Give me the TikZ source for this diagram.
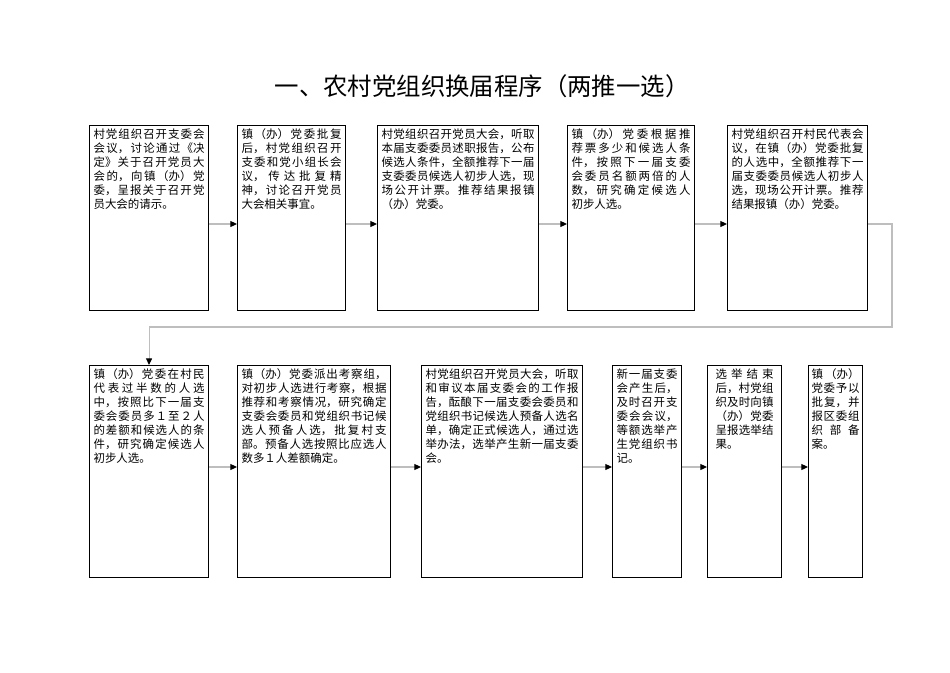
\documentclass[tikz,border=0pt]{standalone}
\usepackage{fontspec}
\setmainfont{Noto Sans CJK SC}
\usepackage{tikz}
\usetikzlibrary{arrows.meta}
\XeTeXlinebreaklocale "zh"
\XeTeXlinebreakskip=0pt plus 1pt
\definecolor{linkgray}{RGB}{190,190,190}
% text block of a stage: text width and box height in px
\newcommand{\cell}[3]{\parbox[c][\dimexpr#2pt*3/4-4.5pt\relax][t]{\dimexpr#1pt*3/4\relax}{%
  \fontsize{8.6}{10.5}\selectfont\tolerance=10000\hbadness=10000 #3}}

\begin{document}
\begin{tikzpicture}[
    x=0.75pt, y=-0.75pt,
    stage/.style={draw, line width=0.8pt, anchor=north west, inner xsep=0pt, inner ysep=2.25pt},
    link/.style={linkgray, line width=0.8pt, -{Triangle[length=5pt, width=4.5pt, color=black]}}
  ]
    \useasboundingbox (0,0) rectangle (950,672);
    % title
    \node (title) at (482,86) {\fontsize{18.3}{22}\selectfont 一、农村党组织换届程序（两推一选）};
    % first row
    \node[stage, minimum width=89.25pt] (b1) at (89,125) {\cell{111}{185}{村党组织召开支委会\linebreak
      会议，讨论通过《决\linebreak 定》关于召开党员大\linebreak 会的，向镇（办）党\linebreak
      委，呈报关于召开党\linebreak 员大会的请示。}};
    \node[stage, minimum width=81pt] (b2) at (237,125) {\cell{100}{185}{镇（办）党委批复\linebreak
      后，村党组织召开\linebreak 支委和党小组长会\linebreak 议，传达批复精\linebreak
      神，讨论召开党员\linebreak 大会相关事宜。}};
    \node[stage, minimum width=120.75pt] (b3) at (377,125) {\cell{153}{185}{村党组织召开党员大会，听取\linebreak
      本届支委委员述职报告，公布\linebreak 候选人条件，全额推荐下一届\linebreak
      支委委员候选人初步人选，现\linebreak 场公开计票。推荐结果报镇\linebreak （办）党委。}};
    \node[stage, minimum width=95.25pt] (b4) at (567,125) {\cell{119}{185}{镇（办）党委根据推\linebreak
      荐票多少和候选人条\linebreak 件，按照下一届支委\linebreak 会委员名额两倍的人\linebreak
      数，研究确定候选人\linebreak 初步人选。}};
    \node[stage, minimum width=105pt] (b5) at (727,125) {\cell{132}{185}{村党组织召开村民代表会\linebreak
      议，在镇（办）党委批复\linebreak 的人选中，全额推荐下一\linebreak 届支委委员候选人初步人\linebreak
      选，现场公开计票。推荐\linebreak 结果报镇（办）党委。}};
    % second row
    \node[stage, minimum width=89.25pt] (b6) at (89,365) {\cell{111}{212}{镇（办）党委在村民\linebreak
      代表过半数的人选\linebreak 中，按照比下一届支\linebreak 委会委员多１至２人\linebreak
      的差额和候选人的条\linebreak 件，研究确定候选人\linebreak 初步人选。}};
    \node[stage, minimum width=114.75pt] (b7) at (237,365) {\cell{145}{212}{镇（办）党委派出考察组，\linebreak
      对初步人选进行考察，根据\linebreak 推荐和考察情况，研究确定\linebreak 支委会委员和党组织书记候\linebreak
      选人预备人选，批复村支\linebreak 部。预备人选按照比应选人\linebreak 数多１人差额确定。}};
    \node[stage, minimum width=120.75pt] (b8) at (421,365) {\cell{153}{212}{村党组织召开党员大会，听取\linebreak
      和审议本届支委会的工作报\linebreak 告，酝酿下一届支委会委员和\linebreak 党组织书记候选人预备人选名\linebreak
      单，确定正式候选人，通过选\linebreak 举办法，选举产生新一届支委\linebreak 会。}};
    \node[stage, minimum width=51.75pt] (b9) at (612,365) {\cell{61}{212}{新一届支委\linebreak
      会产生后，\linebreak 及时召开支\linebreak 委会会议，\linebreak 等额选举产\linebreak 生党组织书\linebreak 记。}};
    \node[stage, minimum width=55.5pt] (b10) at (707,365) {\cell{58}{212}{选举结束\linebreak
      后，村党组\linebreak 织及时向镇\linebreak （办）党委\linebreak 呈报选举结\linebreak 果。}};
    \node[stage, minimum width=40.5pt] (b11) at (808,365) {\cell{48}{212}{镇（办）\linebreak
      党委予以\linebreak 批复，并\linebreak 报区委组\linebreak 织部备\linebreak 案。}};
    % connectors
    \coordinate (r1) at (0,224);
    \coordinate (r2) at (0,467);
    \coordinate (k) at (892,327);
    \foreach \a/\b in {b1/b2,b2/b3,b3/b4,b4/b5}
      \draw[link] (\a.east |- r1) -- (\b.west |- r1);
    \foreach \a/\b in {b6/b7,b7/b8,b8/b9,b9/b10,b10/b11}
      \draw[link] (\a.east |- r2) -- (\b.west |- r2);
    \draw[link] (b5.east |- r1) -| (k) -| (b6.north);
\end{tikzpicture}
\end{document}
